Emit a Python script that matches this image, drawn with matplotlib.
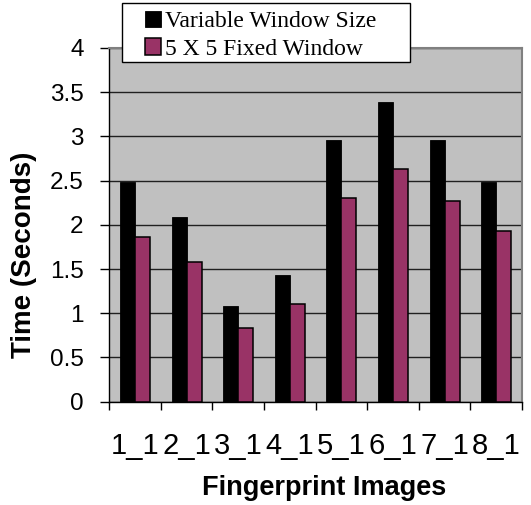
import numpy as np
from matplotlib import pyplot as plt
from matplotlib.patches import Rectangle

plt.rcParams['font.family'] = ['Liberation Sans', 'DejaVu Sans']

# values
images = ['1_1', '2_1', '3_1', '4_1', '5_1', '6_1', '7_1', '8_1']
variable_window = [2.48, 2.09, 1.08, 1.43, 2.96, 3.39, 2.96, 2.48]
fixed_window = [1.86, 1.585, 0.83, 1.10, 2.30, 2.63, 2.27, 1.925]
y_ticks = [0, 0.5, 1, 1.5, 2, 2.5, 3, 3.5, 4]
series_names = ['Variable Window Size', '5 X 5 Fixed Window']

W, H = 531, 505
fig = plt.figure(figsize=(W / 100, H / 100), dpi=100)
ax = fig.add_axes([109.3 / W, 1 - 401.7 / H, (522 - 109.3) / W, (401.7 - 48) / H])
ax.set_facecolor('#C0C0C0')

x = np.arange(len(images))
bw = 0.29
b1 = ax.bar(x - bw, variable_window, width=bw, align='edge', color='black',
            edgecolor='black', linewidth=0.6, zorder=3)
b2 = ax.bar(x, fixed_window, width=bw, align='edge', color='#993366',
            edgecolor='black', linewidth=1.1, zorder=3)

ax.set_xlim(-0.5, len(images) - 0.5)
ax.set_ylim(0, 4)
ax.set_yticks(y_ticks)
ax.set_yticklabels(['{:g}'.format(v) for v in y_ticks])
ax.yaxis.grid(True, color='#202020', linewidth=1.0)
ax.set_axisbelow(True)

# category labels at centres, tick marks at the boundaries
ax.set_xticks(x)
ax.set_xticklabels(images)
ax.set_xticks(np.arange(len(images) + 1) - 0.5, minor=True)
ax.tick_params(axis='x', which='major', length=0, labelsize=21, pad=22)
ax.tick_params(axis='x', which='minor', length=5.5, width=1, direction='out')
ax.tick_params(axis='y', length=6.5, width=1, direction='out', labelsize=17.5, pad=12)

for side in ['left', 'bottom']:
    ax.spines[side].set_color('black')
    ax.spines[side].set_linewidth(1.0)
for side in ['top', 'right']:
    ax.spines[side].set_color('#808080')
    ax.spines[side].set_linewidth(1.5)

fig.text(324 / W, 1 - 495 / H, 'Fingerprint Images', ha='center', va='baseline',
         fontsize=19.5, fontweight='bold')
fig.text(24 / W, 1 - 255 / H, 'Time (Seconds)', ha='center', va='center',
         rotation=90, fontsize=20, fontweight='bold')

# legend box overlapping the top of the plot
box = Rectangle((122.3 / W, 1 - 62.3 / H), (410 - 122.3) / W, (62.3 - 3.3) / H,
                transform=fig.transFigure, facecolor='white', edgecolor='black',
                linewidth=1.0, zorder=4)
fig.add_artist(box)
leg = fig.legend([b1, b2], series_names, loc='upper left',
                 bbox_to_anchor=(145 / W, 1 - 11 / H), frameon=False,
                 borderpad=0, borderaxespad=0, handlelength=0.68, handleheight=0.68,
                 handletextpad=0.17, labelspacing=0.25,
                 prop={'family': 'Liberation Serif', 'size': 17})
leg.set_zorder(5)

fig.savefig('out.png', dpi=100)
